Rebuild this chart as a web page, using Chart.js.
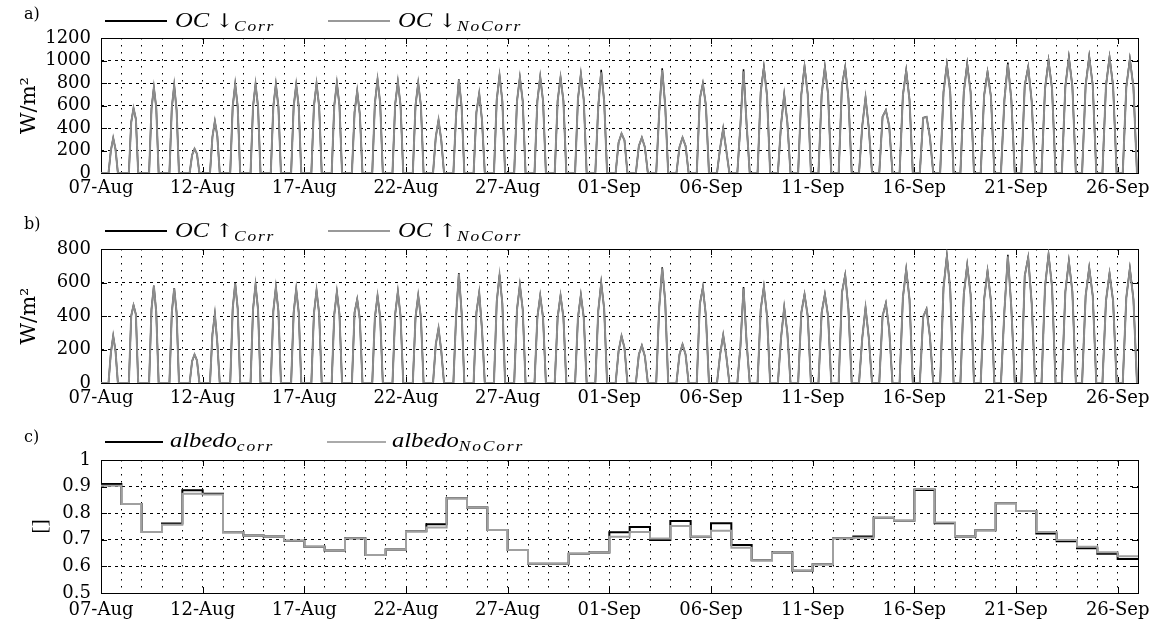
<!DOCTYPE html>
<html><head><meta charset="utf-8">
<script src="https://cdn.jsdelivr.net/npm/chart.js@4.4.0/dist/chart.umd.min.js"></script>
<style>
html,body{margin:0;padding:0;background:#fff;}
#wrap{position:relative;width:1150px;height:626px;overflow:hidden;background:#fff;}
canvas{position:absolute;left:0;}
.pl{position:absolute;font-family:"DejaVu Serif",serif;font-size:16px;color:#000;line-height:1;}
.ll{position:absolute;height:2px;}
.lt{position:absolute;font-family:"Liberation Serif",serif;font-style:italic;font-size:21px;line-height:1;white-space:nowrap;transform:scaleX(1.17);transform-origin:0 50%;color:#000;}
.lt .ar{font-style:normal;font-family:"DejaVu Serif",serif;font-size:19px;}
.lt sub{font-size:15px;vertical-align:-4px;letter-spacing:1.5px;}
</style></head>
<body>
<div id="wrap">
<canvas id="ca" width="1150" height="208" style="top:0px;width:1150px;height:208px"></canvas>
<canvas id="cb" width="1150" height="208" style="top:211px;width:1150px;height:208px"></canvas>
<canvas id="cc" width="1150" height="205" style="top:421px;width:1150px;height:205px"></canvas>

<div class="pl" style="left:24px;top:6px">a)</div>
<div class="ll" style="left:105px;top:20px;width:62px;background:#000"></div>
<div class="lt" style="left:175px;top:10px">OC <span class="ar">↓</span><sub>Corr</sub></div>
<div class="ll" style="left:328px;top:20px;width:62px;background:#999"></div>
<div class="lt" style="left:398px;top:10px">OC <span class="ar">↓</span><sub>NoCorr</sub></div>

<div class="pl" style="left:24px;top:216px">b)</div>
<div class="ll" style="left:105px;top:230px;width:62px;background:#000"></div>
<div class="lt" style="left:175px;top:220px">OC <span class="ar">↑</span><sub>Corr</sub></div>
<div class="ll" style="left:328px;top:230px;width:62px;background:#999"></div>
<div class="lt" style="left:398px;top:220px">OC <span class="ar">↑</span><sub>NoCorr</sub></div>

<div class="pl" style="left:24px;top:429px">c)</div>
<div class="ll" style="left:105px;top:441px;width:58px;background:#000"></div>
<div class="lt" style="left:170px;top:430px">albedo<sub>corr</sub></div>
<div class="ll" style="left:327px;top:441px;width:59px;background:#aaa"></div>
<div class="lt" style="left:392px;top:430px">albedo<sub>NoCorr</sub></div>
</div>
<script>
// ---------- data ----------
const tickLabels = ['07-Aug','12-Aug','17-Aug','22-Aug','27-Aug','01-Sep','06-Sep','11-Sep','16-Sep','21-Sep','26-Sep'];
// time of day (fraction) of the daily maximum
const noon = 0.60;
// visible daylight span (fraction of a day) for each day
const dayLen = [0.46,0.46,0.47,0.47,0.48,0.48,0.49,0.49,0.50,0.50,
                0.51,0.51,0.52,0.52,0.53,0.53,0.54,0.54,0.55,0.55,
                0.56,0.56,0.57,0.57,0.58,0.58,0.59,0.59,0.60,0.60,
                0.61,0.61,0.62,0.62,0.63,0.63,0.64,0.64,0.65,0.65,
                0.66,0.66,0.67,0.67,0.68,0.68,0.69,0.69,0.70,0.70,0.70];
// shortwave down, per day: [morning, peak, afternoon] W/m2
const swDownCorr = [[200,310,210],[450,575,480],[570,762,580],[580,780,560],[160,215,170],
  [320,460,330],[590,790,590],[590,790,590],[590,789,590],[590,785,590],
  [595,795,595],[600,800,600],[540,730,520],[620,833,620],[610,812,600],
  [600,800,600],[320,470,290],[520,833,590],[540,708,470],[650,869,640],
  [640,851,640],[640,857,640],[640,851,640],[660,881,650],[590,917,640],
  [270,351,290],[240,315,230],[540,931,600],[230,315,240],[660,798,600],
  [220,396,200],[430,922,430],[720,946,690],[430,699,450],[700,952,700],
  [700,946,700],[780,946,660],[420,672,400],[500,560,420],[690,917,650],
  [490,500,320],[720,970,720],[720,976,720],[690,902,680],[650,982,650],
  [780,946,640],[750,1006,750],[770,1036,770],[780,1042,780],[775,1036,775],[765,1020,765]];
const swDownNoCorr = [[200,310,210],[450,575,480],[570,760,580],[580,778,560],[160,215,170],
  [320,460,330],[590,788,590],[590,788,590],[590,787,590],[590,783,590],
  [595,793,595],[600,798,600],[540,728,520],[620,830,620],[610,810,600],
  [600,798,600],[320,470,290],[520,828,590],[540,705,470],[650,865,640],
  [640,848,640],[640,853,640],[640,848,640],[660,876,650],[590,895,640],
  [270,350,290],[240,314,230],[540,915,600],[230,314,240],[660,792,600],
  [220,394,200],[430,905,430],[720,930,690],[430,694,450],[700,940,700],
  [700,935,700],[780,935,660],[420,668,400],[500,556,420],[690,905,650],
  [490,498,320],[720,955,720],[720,960,720],[690,890,680],[650,965,650],
  [780,935,640],[750,990,750],[770,1020,770],[780,1028,780],[775,1022,775],[765,1005,765]];
// shortwave up, per day: [morning, peak, afternoon] W/m2
const swUpCorr = [[180,281,190],[400,465,410],[440,581,420],[420,567,420],[130,170,135],
  [290,411,240],[445,595,445],[440,587,440],[430,573,430],[420,561,420],
  [415,553,415],[410,545,410],[420,500,380],[390,521,390],[410,547,400],
  [390,523,390],[230,327,190],[400,657,420],[420,541,320],[485,647,475],
  [440,587,440],[390,523,390],[390,523,390],[390,527,390],[430,601,445],
  [190,281,210],[170,224,160],[450,691,490],[170,231,170],[470,573,400],
  [170,287,160],[220,573,240],[440,577,400],[270,453,300],[420,531,400],
  [420,531,400],[540,647,440],[270,451,270],[400,477,320],[510,681,500],
  [395,443,280],[570,762,560],[530,707,530],[500,671,490],[430,766,450],
  [640,752,480],[575,770,575],[545,730,545],[520,691,520],[490,657,490],[510,687,500]];
const swUpNoCorr = [[180,280,190],[400,463,410],[440,579,420],[420,565,420],[130,170,135],
  [290,410,240],[445,593,445],[440,585,440],[430,571,430],[420,559,420],
  [415,551,415],[410,543,410],[420,498,380],[390,519,390],[410,545,400],
  [390,521,390],[230,326,190],[400,652,420],[420,538,320],[485,642,475],
  [440,583,440],[390,520,390],[390,520,390],[390,524,390],[430,595,445],
  [190,280,210],[170,223,160],[450,684,490],[170,230,170],[470,568,400],
  [170,285,160],[220,566,240],[440,572,400],[270,450,300],[420,527,400],
  [420,527,400],[540,641,440],[270,448,270],[400,474,320],[510,675,500],
  [395,441,280],[570,754,560],[530,700,530],[500,665,490],[430,757,450],
  [640,745,480],[575,762,575],[545,723,545],[520,685,520],[490,651,490],[510,680,500]];
// daily albedo
const albedoCorr = [0.910,0.835,0.729,0.761,0.886,0.873,0.728,0.716,0.712,0.696,
  0.674,0.660,0.706,0.643,0.664,0.732,0.758,0.856,0.821,0.737,
  0.662,0.610,0.610,0.648,0.652,0.728,0.748,0.699,0.771,0.711,
  0.762,0.680,0.623,0.652,0.584,0.608,0.706,0.712,0.783,0.772,
  0.887,0.762,0.712,0.736,0.837,0.808,0.724,0.695,0.668,0.648,0.628];
const albedoNoCorr = [0.903,0.835,0.729,0.757,0.873,0.870,0.728,0.716,0.712,0.696,
  0.674,0.660,0.706,0.643,0.664,0.732,0.746,0.856,0.821,0.737,
  0.662,0.610,0.610,0.648,0.652,0.711,0.729,0.705,0.752,0.711,
  0.734,0.670,0.623,0.652,0.584,0.608,0.706,0.708,0.783,0.772,
  0.891,0.765,0.712,0.736,0.837,0.808,0.729,0.699,0.674,0.653,0.638];

// ---------- build ----------
function diurnal(tri) {
  const pts = [{x: 0, y: 0}];
  tri.forEach((v, d) => {
    const w = dayLen[d], c = d + noon;
    const xs = [c - w / 2, c - w / 4, c, c + w / 4, c + w / 2];
    const ys = [0, v[0], v[1], v[2], 0];
    xs.forEach((x, k) => pts.push({x: x, y: ys[k]}));
  });
  pts.push({x: 51, y: 0});
  return pts;
}
function steps(arr) {
  const pts = arr.map((v, d) => ({x: d, y: v}));
  pts.push({x: arr.length, y: arr[arr.length - 1]});
  return pts;
}

const framePlugin = {
  id: 'frame',
  beforeDatasetsDraw(chart) {
    const {ctx, chartArea: a, scales: {x, y}} = chart;
    ctx.save();
    ctx.strokeStyle = '#000';
    ctx.lineWidth = 1;
    ctx.setLineDash([]);
    ctx.beginPath();
    for (let i = 0; i < tickLabels.length; i++) {
      const px = Math.round(x.getPixelForValue(i * 5)) + 0.5;
      ctx.moveTo(px, a.top); ctx.lineTo(px, a.top + 6);
      ctx.moveTo(px, a.bottom); ctx.lineTo(px, a.bottom - 6);
    }
    y.ticks.forEach(t => {
      const py = Math.round(y.getPixelForValue(t.value)) + 0.5;
      ctx.moveTo(a.left, py); ctx.lineTo(a.left + 6, py);
      ctx.moveTo(a.right, py); ctx.lineTo(a.right - 6, py);
    });
    ctx.stroke();
    ctx.strokeRect(Math.round(a.left) + 0.5, Math.round(a.top) + 0.5,
                   Math.round(a.right - a.left), Math.round(a.bottom - a.top));
    ctx.restore();
  }
};

const tickFont = {family: 'DejaVu Serif', size: 18};
function panel(id, datasets, yMin, yMax, yStep, yTitle, titleFont, titlePad, padTop, xH, xPad) {
  return new Chart(document.getElementById(id), {
    type: 'line',
    data: {datasets: datasets},
    options: {
      responsive: false, animation: false, devicePixelRatio: 1,
      layout: {padding: {top: padTop, right: 12, left: 0, bottom: 0}},
      plugins: {legend: {display: false}, tooltip: {enabled: false}},
      elements: {point: {radius: 0}, line: {tension: 0}},
      scales: {
        x: {
          type: 'linear', min: 0, max: 51,
          afterFit: s => { s.height = xH; s.paddingLeft = 0; s.paddingRight = 0; },
          grid: {color: '#000', lineWidth: 1, drawTicks: false},
          border: {display: false, dash: [1.5, 5.5]},
          ticks: {stepSize: 1, autoSkip: false, maxRotation: 0, minRotation: 0, padding: xPad,
                  color: '#000', font: tickFont,
                  callback: v => (v % 5 === 0 && v / 5 < tickLabels.length) ? tickLabels[v / 5] : ''}
        },
        y: {
          type: 'linear', min: yMin, max: yMax,
          afterFit: s => { s.width = 101; },
          grid: {color: '#000', lineWidth: 1, drawTicks: false},
          border: {display: false, dash: [3, 4]},
          ticks: {stepSize: yStep, autoSkip: false, padding: 10, color: '#000', font: tickFont,
                  callback: v => String(Number(Number(v).toFixed(2)))},
          title: {display: true, text: yTitle, color: '#000', font: titleFont,
                  padding: {top: titlePad, bottom: 0}}
        }
      }
    },
    plugins: [framePlugin]
  });
}

const GRAY = '#8c8c8c';
panel('ca', [
  {data: diurnal(swDownNoCorr), borderColor: GRAY, borderWidth: 2, order: 0},
  {data: diurnal(swDownCorr), borderColor: '#000', borderWidth: 1.5, order: 1}
], 0, 1200, 200, 'W/m²', {family: 'DejaVu Serif', size: 21}, 17, 38, 35, 5);

panel('cb', [
  {data: diurnal(swUpNoCorr), borderColor: GRAY, borderWidth: 2, order: 0},
  {data: diurnal(swUpCorr), borderColor: '#000', borderWidth: 1.5, order: 1}
], 0, 800, 200, 'W/m²', {family: 'DejaVu Serif', size: 21}, 17, 38, 36, 5);

panel('cc', [
  {data: steps(albedoNoCorr), borderColor: '#a0a0a0', borderWidth: 2, stepped: 'before', order: 0},
  {data: steps(albedoCorr), borderColor: '#000', borderWidth: 2, stepped: 'before', order: 1}
], 0.5, 1.0, 0.1, '[]', {family: 'Liberation Serif', size: 22}, 27, 39, 33, 7);
</script>
</body></html>
